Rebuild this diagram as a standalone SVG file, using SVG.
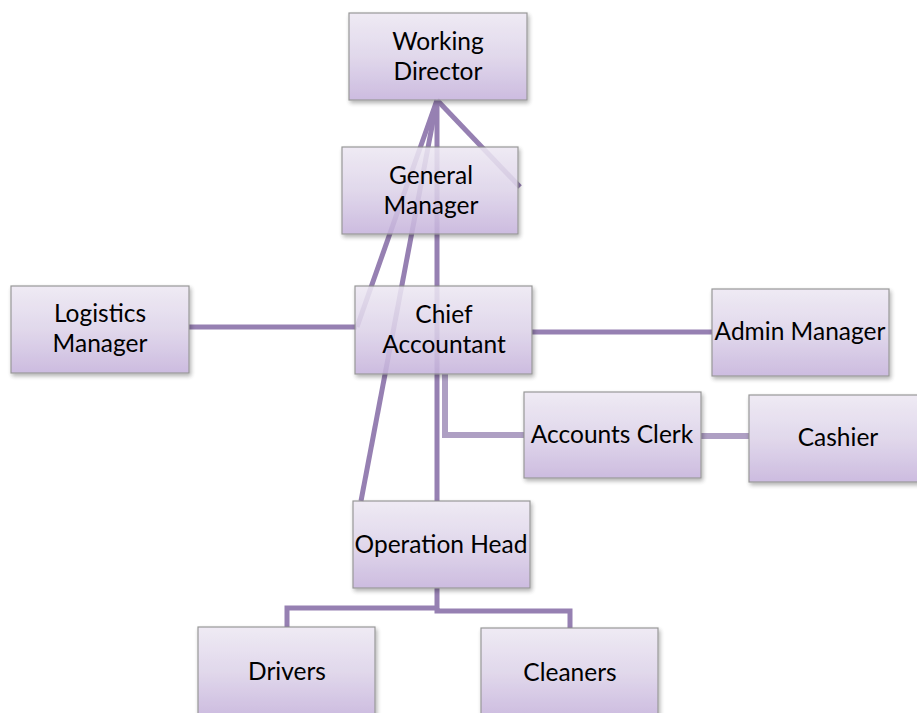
<svg xmlns="http://www.w3.org/2000/svg" width="917" height="713" viewBox="0 0 917 713">
<defs>
<linearGradient id="g" x1="0" y1="0" x2="0" y2="1">
<stop offset="0" stop-color="#ede8f3"/>
<stop offset="0.5" stop-color="#ddd3e9"/>
<stop offset="1" stop-color="#c6b3dc"/>
</linearGradient>
<filter id="sh" x="-10%" y="-10%" width="130%" height="130%">
<feDropShadow dx="1.5" dy="2.5" stdDeviation="2" flood-color="#000" flood-opacity="0.35"/>
</filter>
</defs>
<style>
.box{fill:url(#g);stroke:#8a8a8a;stroke-width:1.2;filter:url(#sh);opacity:0.88}
.t{font-family:Lato,"Liberation Sans",sans-serif;font-size:24.5px;fill:#000;text-anchor:middle}
.c{fill:none;stroke:#9680b2;stroke-width:5;stroke-linejoin:miter}
.cl{fill:none;stroke:#ae9fc3;stroke-width:6}
</style>
<g id="connectors">
<line class="c" x1="437" y1="100" x2="520" y2="187" stroke-width="4"/>
<line class="c" x1="437" y1="100" x2="437" y2="501"/>
<line class="c" x1="437" y1="100" x2="361" y2="501"/>
<line class="c" x1="437" y1="100" x2="357" y2="327"/>
<line class="c" x1="189" y1="327" x2="357" y2="327"/>
<line class="c" x1="532" y1="332" x2="712" y2="332"/>
<polyline class="cl" points="445,374 445,435 524,435"/>
<line class="cl" x1="701" y1="436" x2="749" y2="436" stroke-width="5"/>
<polyline class="c" points="437,588 437,608 287,608 287,627"/>
<polyline class="c" points="437,608 437,611 570,611 570,628"/>
</g>
<g id="working-director"><rect class="box" x="349" y="13" width="178" height="87"/><text class="t" x="438" y="50">Working</text><text class="t" x="438" y="80">Director</text></g>
<g id="general-manager"><rect class="box" x="342" y="147" width="176" height="87"/><text class="t" x="431" y="184">General</text><text class="t" x="431" y="214">Manager</text></g>
<g id="logistics-manager"><rect class="box" x="11" y="286" width="178" height="87"/><text class="t" x="100" y="322">Logistics</text><text class="t" x="100" y="352">Manager</text></g>
<g id="chief-accountant"><rect class="box" x="355" y="286" width="177" height="88"/><text class="t" x="444" y="323">Chief</text><text class="t" x="444" y="353">Accountant</text></g>
<g id="admin-manager"><rect class="box" x="712" y="289" width="177" height="87"/><text class="t" x="800" y="340">Admin Manager</text></g>
<g id="accounts-clerk"><rect class="box" x="524" y="392" width="177" height="86"/><text class="t" x="612" y="443">Accounts Clerk</text></g>
<g id="cashier"><rect class="box" x="749" y="395" width="172" height="87"/><text class="t" x="838" y="446">Cashier</text></g>
<g id="operation-head"><rect class="box" x="353" y="501" width="177" height="87"/><text class="t" x="441" y="553">Operation Head</text></g>
<g id="drivers"><rect class="box" x="198" y="627" width="177" height="90"/><text class="t" x="287" y="680">Drivers</text></g>
<g id="cleaners"><rect class="box" x="481" y="628" width="177" height="90"/><text class="t" x="570" y="681">Cleaners</text></g>
</svg>
